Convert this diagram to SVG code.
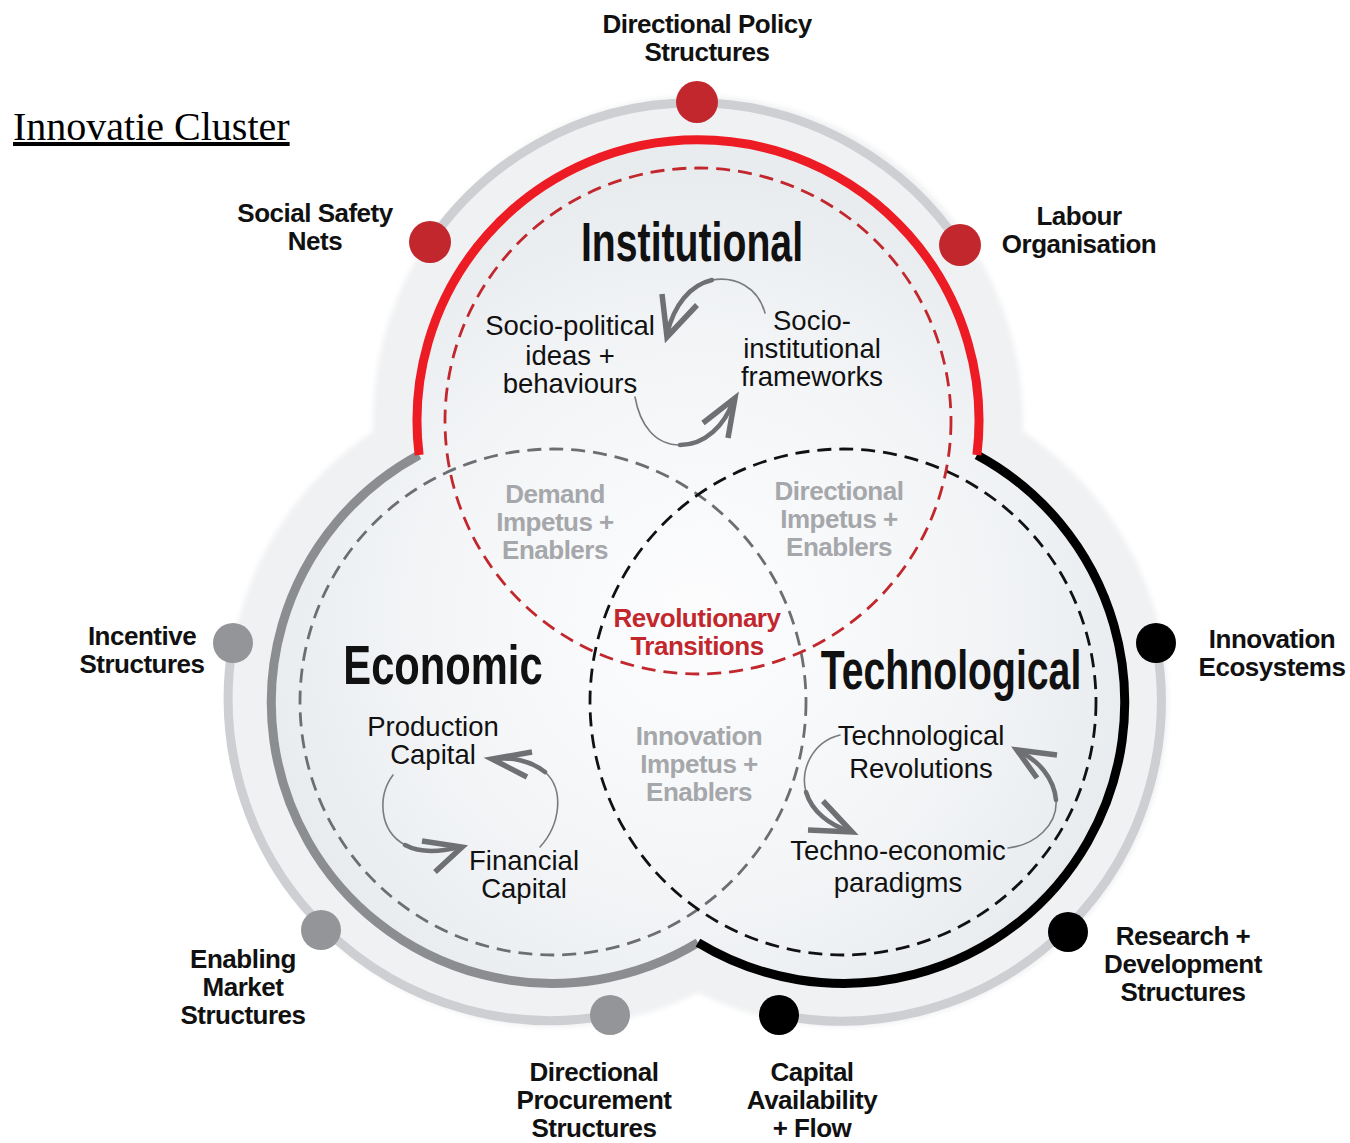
<svg xmlns="http://www.w3.org/2000/svg" width="1350" height="1143" viewBox="0 0 1350 1143">
<defs>
<style>
.lbl{font-family:"Liberation Sans",Arial,sans-serif;font-weight:bold;font-size:26px;text-anchor:middle;fill:#111;letter-spacing:-0.5px}
.title{font-family:"Liberation Sans",Arial,sans-serif;font-weight:bold;font-size:56px;text-anchor:middle;fill:#111}
.inner{font-family:"Liberation Sans",Arial,sans-serif;font-size:27.5px;text-anchor:middle;fill:#111}
.zone{font-family:"Liberation Sans",Arial,sans-serif;font-weight:bold;font-size:26px;text-anchor:middle;fill:#a5a7aa;letter-spacing:-0.5px}
.rev{font-family:"Liberation Sans",Arial,sans-serif;font-weight:bold;font-size:26px;text-anchor:middle;fill:#c1272d;letter-spacing:-0.5px}
.dash{fill:none;stroke-width:2.8;stroke-dasharray:14 8}
.thick{fill:none;stroke-width:9}
.halo{fill:none;stroke:#cdcfd2;stroke-width:9}
.tail{fill:none;stroke:#7a7b7e;stroke-width:1.6;stroke-linecap:round}
.shaft{fill:none;stroke:#6f7073;stroke-width:4.5;stroke-linecap:round}
.head{fill:none;stroke:#6f7073;stroke-width:5.5;stroke-linejoin:miter;stroke-linecap:butt}
</style>
<radialGradient id="innerFill" gradientUnits="userSpaceOnUse" cx="698" cy="620" r="440">
<stop offset="0" stop-color="#fdfdfe"/>
<stop offset="0.6" stop-color="#f3f5f7"/>
<stop offset="1" stop-color="#e9ecef"/>
</radialGradient>
<filter id="soft" x="-10%" y="-10%" width="120%" height="120%">
<feGaussianBlur stdDeviation="2.5"/>
</filter>
</defs>

<rect width="1350" height="1143" fill="#ffffff"/>

<g id="background">
<g fill="#f0f1f3" filter="url(#soft)">
<circle cx="698" cy="421" r="325"/>
<circle cx="553" cy="702" r="325"/>
<circle cx="843" cy="702" r="325"/>
</g>
<g fill="url(#innerFill)">
<circle cx="698" cy="421" r="281"/>
<circle cx="553" cy="702" r="281"/>
<circle cx="843" cy="702" r="281"/>
</g>
</g>

<g id="rings">
<path class="halo" d="M430,242 A320,320 0 0,1 960,245"/>
<path class="halo" d="M233,643 A322,322 0 0,0 610,1015"/>
<path class="halo" d="M779,1015 A320,320 0 0,0 1156,643"/>
<path class="thick" stroke="#8c8d90" d="M419.1,455 A281,281 0 1,0 698,942.7"/>
<path class="thick" stroke="#000000" d="M698,942.7 A281,281 0 1,0 976.9,455"/>
<path class="thick" stroke="#ed1c24" d="M419.1,455 A281,281 0 1,1 976.9,455"/>
</g>

<g id="node-economic">
<circle class="dash" stroke="#6d6e71" cx="553" cy="702" r="253"/>
<text class="title" transform="translate(443,684) scale(0.745,1)">Economic</text>
<text class="inner" x="433" y="736">Production</text>
<text class="inner" x="433" y="764">Capital</text>
<text class="inner" x="524" y="870">Financial</text>
<text class="inner" x="524" y="898">Capital</text>
</g>

<g id="node-technological">
<circle class="dash" stroke="#111111" cx="843" cy="702" r="253"/>
<text class="title" transform="translate(951,689) scale(0.70,1)">Technological</text>
<text class="inner" x="921" y="745">Technological</text>
<text class="inner" x="921" y="778">Revolutions</text>
<text class="inner" x="898" y="860">Techno-economic</text>
<text class="inner" x="898" y="892">paradigms</text>
</g>

<g id="node-institutional">
<circle class="dash" stroke="#c1272d" cx="698" cy="421" r="253"/>
<text class="title" transform="translate(692,261) scale(0.70,1)">Institutional</text>
<text class="inner" x="570" y="335">Socio-political</text>
<text class="inner" x="570" y="365">ideas +</text>
<text class="inner" x="570" y="393">behaviours</text>
<text class="inner" x="812" y="330">Socio-</text>
<text class="inner" x="812" y="358">institutional</text>
<text class="inner" x="812" y="386">frameworks</text>
</g>

<g id="zone-demand">
<text class="zone" x="555" y="503">Demand</text>
<text class="zone" x="555" y="531">Impetus +</text>
<text class="zone" x="555" y="559">Enablers</text>
</g>
<g id="zone-directional">
<text class="zone" x="839" y="500">Directional</text>
<text class="zone" x="839" y="528">Impetus +</text>
<text class="zone" x="839" y="556">Enablers</text>
</g>
<g id="zone-innovation">
<text class="zone" x="699" y="745">Innovation</text>
<text class="zone" x="699" y="773">Impetus +</text>
<text class="zone" x="699" y="801">Enablers</text>
</g>
<g id="zone-revolutionary">
<text class="rev" x="697" y="627">Revolutionary</text>
<text class="rev" x="697" y="655">Transitions</text>
</g>

<g id="connectors">
<g id="arrow-inst-top">
<path class="tail" d="M765,313 C758,287 735,276 712,280"/>
<path class="shaft" d="M712,280 C690,285 674,305 667,334"/>
<polyline class="head" points="662,294 667,337 697,305"/>
</g>
<g id="arrow-inst-bottom">
<path class="tail" d="M635,397 C640,425 655,445 680,445"/>
<path class="shaft" d="M680,445 C705,445 725,425 733,401"/>
<polyline class="head" points="703,423 735,398 728,438"/>
</g>
<g id="arrow-econ-right">
<path class="tail" d="M540,847 C560,825 565,790 545,772"/>
<path class="shaft" d="M545,772 C530,760 510,757 495,759"/>
<polyline class="head" points="532,752 492,759 527,777"/>
</g>
<g id="arrow-econ-left">
<path class="tail" d="M393,775 C378,795 378,830 405,845"/>
<path class="shaft" d="M405,845 C420,853 440,852 459,847"/>
<polyline class="head" points="422,841 462,847 435,872"/>
</g>
<g id="arrow-tech-left">
<path class="tail" d="M840,735 C812,742 800,770 806,792"/>
<path class="shaft" d="M806,792 C812,812 830,825 849,831"/>
<polyline class="head" points="823,801 852,832 808,830"/>
</g>
<g id="arrow-tech-right">
<path class="tail" d="M1008,848 C1035,845 1058,825 1056,800"/>
<path class="shaft" d="M1056,800 C1054,778 1038,760 1020,752"/>
<polyline class="head" points="1057,755 1017,750 1037,778"/>
</g>
</g>

<g id="factor-directional-policy">
<circle cx="697" cy="102" r="21" fill="#c1272d"/>
<text class="lbl" x="707" y="33">Directional Policy</text>
<text class="lbl" x="707" y="61">Structures</text>
</g>
<g id="factor-social-safety">
<circle cx="430" cy="242" r="21" fill="#c1272d"/>
<text class="lbl" x="315" y="222">Social Safety</text>
<text class="lbl" x="315" y="250">Nets</text>
</g>
<g id="factor-labour">
<circle cx="960" cy="245" r="21" fill="#c1272d"/>
<text class="lbl" x="1079" y="225">Labour</text>
<text class="lbl" x="1079" y="253">Organisation</text>
</g>
<g id="factor-incentive">
<circle cx="233" cy="643" r="20" fill="#939598"/>
<text class="lbl" x="142" y="645">Incentive</text>
<text class="lbl" x="142" y="673">Structures</text>
</g>
<g id="factor-enabling-market">
<circle cx="321" cy="930" r="20" fill="#939598"/>
<text class="lbl" x="243" y="968">Enabling</text>
<text class="lbl" x="243" y="996">Market</text>
<text class="lbl" x="243" y="1024">Structures</text>
</g>
<g id="factor-procurement">
<circle cx="610" cy="1015" r="20" fill="#939598"/>
<text class="lbl" x="594" y="1081">Directional</text>
<text class="lbl" x="594" y="1109">Procurement</text>
<text class="lbl" x="594" y="1137">Structures</text>
</g>
<g id="factor-capital">
<circle cx="779" cy="1015" r="20" fill="#000000"/>
<text class="lbl" x="812" y="1081">Capital</text>
<text class="lbl" x="812" y="1109">Availability</text>
<text class="lbl" x="812" y="1137">+ Flow</text>
</g>
<g id="factor-research">
<circle cx="1068" cy="932" r="20" fill="#000000"/>
<text class="lbl" x="1183" y="945">Research +</text>
<text class="lbl" x="1183" y="973">Development</text>
<text class="lbl" x="1183" y="1001">Structures</text>
</g>
<g id="factor-innovation-eco">
<circle cx="1156" cy="643" r="20" fill="#000000"/>
<text class="lbl" x="1272" y="648">Innovation</text>
<text class="lbl" x="1272" y="676">Ecosystems</text>
</g>

<g id="heading">
<text x="13" y="140" font-family="'Liberation Serif','Times New Roman',serif" font-size="40" fill="#000" text-decoration="underline">Innovatie Cluster</text>
</g>
</svg>
